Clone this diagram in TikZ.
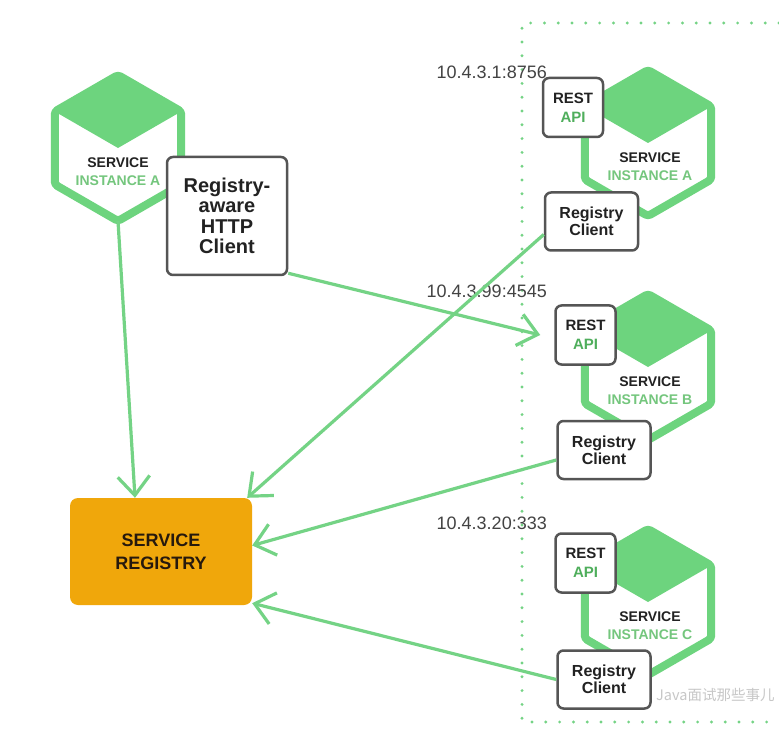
\documentclass[tikz,border=0pt]{standalone}
\usepackage{fontspec}
\setmainfont{Liberation Sans}
\newfontfamily\cjk{Noto Sans CJK SC}
\usetikzlibrary{arrows.meta, positioning, shapes.geometric}
\definecolor{hexgreen}{HTML}{6DD47E}
\definecolor{linegreen}{HTML}{74D385}
\definecolor{instgreen}{HTML}{74C67D}
\definecolor{apigreen}{HTML}{4FAE5C}
\definecolor{regorange}{HTML}{F0A70B}
\definecolor{boxgray}{HTML}{555555}
\definecolor{inktext}{HTML}{222222}
\tikzset{
  hexa/.style={regular polygon, regular polygon sides=6, shape border rotate=30, draw=hexgreen, line width=8pt, line join=round, rounded corners=3pt, minimum size=146pt, inner sep=0pt, outer sep=0pt},
  hexlabel/.style={align=center, text=inktext, font=\fontsize{14}{18}\selectfont\bfseries},
  client/.style={rectangle, draw=boxgray, line width=2.5pt, rounded corners=6pt, fill=white, align=center, text=inktext, font=\fontsize{16}{17}\selectfont\bfseries, minimum width=93pt, minimum height=58pt, inner sep=0pt},
  restbox/.style={client, font=\fontsize{15}{19}\selectfont\bfseries, minimum width=60pt, minimum height=59pt},
  registry/.style={rectangle, fill=regorange, rounded corners=8pt, align=center, text=black!80!brown, font=\fontsize{18}{23}\selectfont\bfseries, minimum width=182pt, minimum height=107pt},
  iplabel/.style={anchor=east, inner sep=0pt, text=inktext!85, font=\fontsize{18}{20}\selectfont},
  dotbox/.style={draw=linegreen, line width=3.2pt, line cap=round, dash pattern=on 0pt off 13.8pt},
  line/.style={-{Straight Barb[length=19pt,width=32pt]}, draw=linegreen, line width=3.2pt}
}

\begin{document}
\begin{tikzpicture}[x=1pt, y=1pt]
    \useasboundingbox[fill=white] (0,0) rectangle (779,-735);
    % host box on the right
    \draw[dotbox] (779,-23) -- (522,-23) -- (522,-722) -- (779,-722);
    \node[iplabel] (ipa) at (547,-72) {10.4.3.1:8756};
    \node[iplabel] (ipb) at (547,-291) {10.4.3.99:4545};
    \node[iplabel] (ipc) at (547,-523) {10.4.3.20:333};

    % client service
    \fill[hexgreen] (118,-148) ++(90:73) -- ++(210:73) -- ++(330:73) -- ++(30:73) -- cycle;
    \node[hexa] (ha) at (118,-148) {};
    \node[hexlabel] (la) at (118,-172) {SERVICE\\\textcolor{instgreen}{INSTANCE A}};
    \node[client, font=\fontsize{20}{20.5}\selectfont\bfseries, minimum width=120pt, minimum height=118pt] (hc) at (227,-216) {Registry-\\aware\\HTTP\\Client};

    % service instances
    \fill[hexgreen] (648,-143) ++(90:73) -- ++(210:73) -- ++(330:73) -- ++(30:73) -- cycle;
    \node[hexa] (sa) at (648,-143) {};
    \node[hexlabel] (lsa) at (650,-167) {SERVICE\\\textcolor{instgreen}{INSTANCE A}};
    \node[restbox] (ra) at (573,-107.5) {REST\\\textcolor{apigreen}{API}};
    \node[client] (rca) at (591.5,-221.5) {Registry\\Client};

    \fill[hexgreen] (648,-367) ++(90:73) -- ++(210:73) -- ++(330:73) -- ++(30:73) -- cycle;
    \node[hexa] (sb) at (648,-367) {};
    \node[hexlabel] (lsb) at (650,-391) {SERVICE\\\textcolor{instgreen}{INSTANCE B}};
    \node[restbox] (rb) at (585.5,-335) {REST\\\textcolor{apigreen}{API}};
    \node[client] (rcb) at (604,-450) {Registry\\Client};

    \fill[hexgreen] (648,-602) ++(90:73) -- ++(210:73) -- ++(330:73) -- ++(30:73) -- cycle;
    \node[hexa] (sc) at (648,-602) {};
    \node[hexlabel] (lsc) at (650,-626) {SERVICE\\\textcolor{instgreen}{INSTANCE C}};
    \node[restbox] (rc) at (585.5,-563) {REST\\\textcolor{apigreen}{API}};
    \node[client] (rcc) at (604,-679.5) {Registry\\Client};

    \node[registry] (reg) at (161,-551.5) {SERVICE\\REGISTRY};

    \draw[line] (ha.270) -- ([xshift=-26pt]reg.north);
    \draw[line] ([yshift=3pt]hc.south east) -- ([xshift=-14pt]rb.west);
    \draw[line] ([yshift=-13pt]rca.west) -- ([xshift=-5pt]reg.north east);
    \draw[line] ([yshift=-10pt]rcb.west) -- ([yshift=6pt]reg.east);
    \draw[line] (rcc.west) -- ([yshift=2pt]reg.south east);

    \node[anchor=west, inner sep=0pt, text=gray!55, opacity=0.8, font=\cjk\fontsize{14.5}{15}\selectfont] (wm) at (656,-695) {Java面试那些事儿};
\end{tikzpicture}
\end{document}
